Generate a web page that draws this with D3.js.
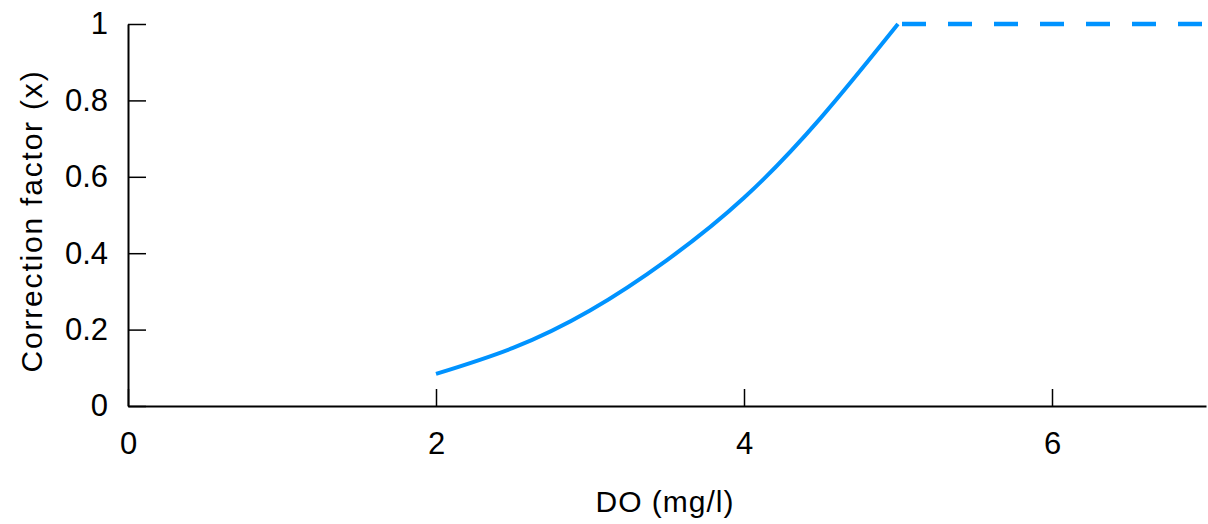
<!DOCTYPE html>
<html>
<head>
<meta charset="utf-8">
<script src="https://cdn.jsdelivr.net/npm/d3@7"></script>
<style>
  body { margin: 0; background: #fff; }
  svg { display: block; font-family: "Liberation Sans", Arial, sans-serif; }
</style>
</head>
<body>
<div id="chart"></div>
<script>
// DO values (mg/l) and matching correction factor
const doValues = [2.0, 2.5, 3.0, 3.5, 4.0, 4.5, 5.0]
const factorValues = [0.084, 0.152, 0.25, 0.382, 0.545, 0.755, 1.0]

// flat part above 5 mg/l (dashed)
const flatX = [5, 7]
const flatY = [1, 1]

const xTicks = [0, 2, 4, 6]
const yTicks = [0, 0.2, 0.4, 0.6, 0.8, 1]

const width = 1208
const height = 524
const margin = { top: 24, right: 2, bottom: 118, left: 128 }
const lineColor = '#0093ff'
const font = '"Liberation Sans", Arial, sans-serif'

const svg = d3
  .select('#chart')
  .append('svg')
  .attr('width', width)
  .attr('height', height)

const x = d3.scaleLinear().domain([0, 7]).range([margin.left, width - margin.right])
const y = d3.scaleLinear().domain([0, 1]).range([height - margin.bottom, margin.top])

// axes, ticks point inwards
const xAxis = svg
  .append('g')
  .attr('transform', `translate(0,${y(0)})`)
  .call(d3.axisBottom(x).tickValues(xTicks).tickSize(-17).tickSizeOuter(0).tickPadding(26).tickFormat(d3.format('~g')))

const yAxis = svg
  .append('g')
  .attr('transform', `translate(${x(0)},0)`)
  .call(d3.axisLeft(y).tickValues(yTicks).tickSize(-18).tickSizeOuter(0).tickPadding(20).tickFormat(d3.format('~g')))

;[xAxis, yAxis].forEach((g) => {
  g.select('.domain').attr('stroke', '#000').attr('stroke-width', 2)
  g.selectAll('.tick line').attr('stroke', '#000').attr('stroke-width', 1.5)
  g.selectAll('.tick text').attr('fill', '#000').style('font-size', '31px').style('font-family', font)
})

// curve
const pts = doValues.map((d, i) => [d, factorValues[i]])

svg
  .append('path')
  .datum(pts)
  .attr('fill', 'none')
  .attr('stroke', lineColor)
  .attr('stroke-width', 4)
  .attr('d', d3.line().x((d) => x(d[0])).y((d) => y(d[1])).curve(d3.curveNatural))

svg
  .append('path')
  .datum(flatX.map((d, i) => [d, flatY[i]]))
  .attr('fill', 'none')
  .attr('stroke', lineColor)
  .attr('stroke-width', 4.5)
  .attr('stroke-dasharray', '24 22')
  .attr('transform', 'translate(4,0)')
  .attr('d', d3.line().x((d) => x(d[0])).y((d) => y(d[1])))

// axis titles
svg
  .append('text')
  .attr('x', 665)
  .attr('y', 512)
  .attr('text-anchor', 'middle')
  .style('font-size', '30px')
  .style('letter-spacing', '1px')
  .text('DO (mg/l)')

svg
  .append('text')
  .attr('transform', `translate(42,221) rotate(-90)`)
  .attr('text-anchor', 'middle')
  .style('font-size', '30px')
  .style('letter-spacing', '1.8px')
  .text('Correction factor (x)')
</script>
</body>
</html>
